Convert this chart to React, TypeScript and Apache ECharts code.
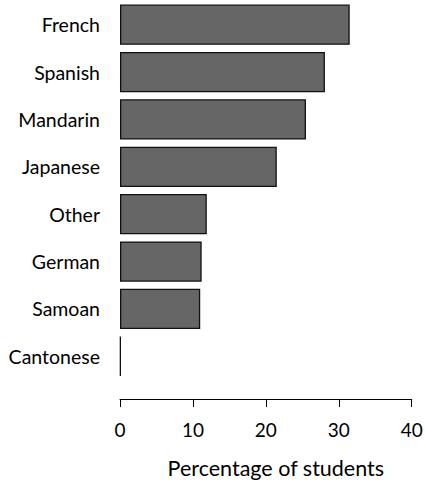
import React, { useEffect, useRef } from "react";
import * as echarts from "echarts";

const categories = ["French", "Spanish", "Mandarin", "Japanese", "Other", "German", "Samoan", "Cantonese"];
const values = [31.5, 28.1, 25.5, 21.5, 11.9, 11.2, 11.0, 0.1];
const xTicks = { min: 0, max: 40, interval: 10 };
const xTitle = "Percentage of students";

export default function App() {
  const ref = useRef<HTMLDivElement>(null);
  useEffect(() => {
    document.body.style.margin = "0";
    const chart = echarts.init(ref.current!, null, { renderer: "svg" });
    const font = "Lato, 'Open Sans', sans-serif";
    chart.setOption({
      animation: false,
      backgroundColor: "#ffffff",
      grid: { left: 120, right: 13.3, top: 1, bottom: 102, containLabel: false, outerBoundsMode: "none" },
      xAxis: {
        type: "value",
        min: xTicks.min,
        max: xTicks.max,
        interval: xTicks.interval,
        offset: 19,
        axisLine: { show: true, lineStyle: { color: "#000", width: 1 } },
        axisTick: { show: true, length: 8, lineStyle: { color: "#000" } },
        splitLine: { show: false },
        axisLabel: { color: "#000", fontSize: 19, fontFamily: font, margin: 21 },
        name: xTitle,
        nameLocation: "middle",
        nameGap: 58,
        nameTextStyle: { color: "#000", fontSize: 21.5, fontFamily: font, padding: [0, 0, 0, 20] },
      },
      yAxis: {
        type: "category",
        data: categories,
        inverse: true,
        axisLine: { show: false },
        axisTick: { show: false },
        axisLabel: { color: "#000", fontSize: 19.5, fontFamily: font, margin: 20 },
      },
      series: [
        {
          type: "bar",
          data: values,
          barCategoryGap: "15%",
          itemStyle: { color: "#666666", borderColor: "#111", borderWidth: 1.3 },
        },
      ],
    });
    return () => chart.dispose();
  }, []);
  return <div ref={ref} style={{ width: 425, height: 482, position: "absolute", left: 0, top: 0 }} />;
}
